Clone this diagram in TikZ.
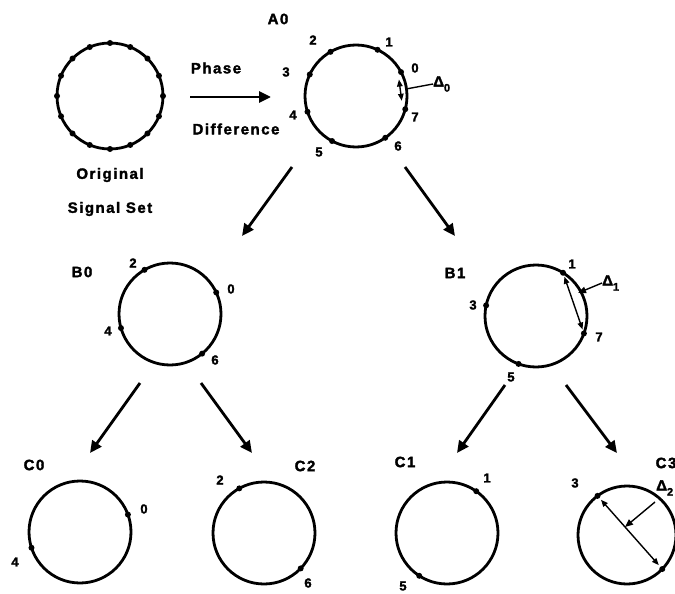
\documentclass[tikz,border=0pt]{standalone}
\usepackage{fontspec}
\setmainfont{Liberation Sans}[LetterSpace=10,BoldFeatures={FakeBold=2}]
\usetikzlibrary{arrows.meta,calc}
\begin{document}
\begin{tikzpicture}[x=1pt,y=-1pt,
  ring/.style={circle,draw,line width=2.8pt,outer sep=0pt,inner sep=0pt},
  dot/.style={circle,fill,inner sep=0pt,minimum size=6pt},
  lbl/.style={font=\bfseries\fontsize{15}{15}\selectfont,inner sep=0pt},
  num/.style={font=\bfseries\fontsize{13}{13}\selectfont,inner sep=0pt},
  flow/.style={line width=2.8pt,-{Triangle[length=12pt,width=11pt]}},
  delta/.style={line width=1.4pt},
  dtips/.style={{Triangle[length=7pt,width=5.5pt]}-{Triangle[length=7pt,width=5.5pt]}},
  dtip/.style={-{Triangle[length=8pt,width=6.5pt]}},
  dlbl/.style={font=\bfseries\fontsize{15}{15}\selectfont,inner sep=0pt,anchor=west}
]
\useasboundingbox (0,0) rectangle (675,594);
\clip (0,0) rectangle (675,594);

% Original signal set
\node[ring,minimum size=106pt] (O) at (110,96) {};
\foreach \a [count=\i] in {0,22.5,...,337.5} \node[dot] (o\i) at ($(O)+(\a:53pt)$) {};
\node[lbl] (orig) at (110,175) {Original};
\node[lbl] (sigset) at (110,209) {Signal Set};

% Phase difference arrow
\node[lbl] (phase) at (216,68) {Phase};
\node[lbl] (diff) at (236,129) {Difference};
\coordinate (p1) at (190,97);
\coordinate (p2) at (271,97);
\draw[flow] (p1) -- (p2);

% A0
\node[ring,minimum size=102pt] (A0) at (356,96) {};
\foreach \a/\n in {28/0,65/1,120/2,155/3,198/4,242/5,305/6,345/7} \node[dot] (a\n) at (A0.\a) {};
\node[lbl] (labA0) at (278,19) {A0};
\node[num] (na0) at (415,68) {0};
\node[num] (na1) at (389,42) {1};
\node[num] (na2) at (313,40) {2};
\node[num] (na3) at (286,72) {3};
\node[num] (na4) at (293,115) {4};
\node[num] (na5) at (319,152) {5};
\node[num] (na6) at (398,146) {6};
\node[num] (na7) at (415,117) {7};
\draw[delta,dtips] ($(A0)+(21:46pt)$) -- ($(A0)+(-6:46pt)$);
\coordinate (d0p) at (406,89);
\node[dlbl] (D0) at (433,84) {Δ\raisebox{-5pt}{\fontsize{11}{11}\selectfont 0}};
\draw[delta] (d0p) -- (D0.west);

% A0 -> B0, B1
\coordinate (s1) at (292,167); \coordinate (t1) at (242,236);
\coordinate (s2) at (405,167); \coordinate (t2) at (455,236);
\draw[flow] (s1) -- (t1);
\draw[flow] (s2) -- (t2);

% B0
\node[ring,minimum size=102pt] (B0) at (170,314) {};
\foreach \a/\n in {25/0,120/2,196/4,309/6} \node[dot] (b\n) at (B0.\a) {};
\node[lbl] (labB0) at (82,272) {B0};
\node[num] (nb2) at (133,263) {2};
\node[num] (nb0) at (231,289) {0};
\node[num] (nb4) at (108,331) {4};
\node[num] (nb6) at (215,360) {6};

% B1
\node[ring,minimum size=102pt] (B1) at (536,316) {};
\foreach \a/\n in {58/1,168/3,250/5,340/7} \node[dot] (b\n) at (B1.\a) {};
\node[lbl] (labB1) at (455,273) {B1};
\node[num] (nb1) at (572,264) {1};
\node[num] (nb3) at (473,305) {3};
\node[num] (nb5) at (511,377) {5};
\node[num] (nb7) at (599,337) {7};
\draw[delta,dtips,shorten <=1pt,shorten >=1pt] (b1) -- (b7);
\coordinate (d1p) at (578,293);
\node[dlbl] (D1) at (602,283) {Δ\raisebox{-5pt}{\fontsize{11}{11}\selectfont 1}};
\draw[delta,dtip] (D1.west) -- (d1p);

% B0 -> C0, C2 ; B1 -> C1, C3
\coordinate (s3) at (140,383); \coordinate (t3) at (90,453);
\coordinate (s4) at (201,383); \coordinate (t4) at (252,453);
\coordinate (s5) at (505,385); \coordinate (t5) at (457,453);
\coordinate (s6) at (566,385); \coordinate (t6) at (617,453);
\draw[flow] (s3) -- (t3);
\draw[flow] (s4) -- (t4);
\draw[flow] (s5) -- (t5);
\draw[flow] (s6) -- (t6);

% C0
\node[ring,minimum size=102pt] (C0) at (80,532) {};
\foreach \a/\n in {20/0,198/4} \node[dot] (c\n) at (C0.\a) {};
\node[lbl] (labC0) at (34,465) {C0};
\node[num] (nc0) at (144,509) {0};
\node[num] (nc4) at (15,562) {4};

% C2
\node[ring,minimum size=102pt] (C2) at (264,533) {};
\foreach \a/\n in {119/2,316/6} \node[dot] (c\n) at (C2.\a) {};
\node[lbl] (labC2) at (305,466) {C2};
\node[num] (nc2) at (220,480) {2};
\node[num] (nc6) at (308,583) {6};

% C1
\node[ring,minimum size=102pt] (C1) at (447,533) {};
\foreach \a/\n in {55/1,237/5} \node[dot] (c\n) at (C1.\a) {};
\node[lbl] (labC1) at (405,462) {C1};
\node[num] (nc1) at (487,478) {1};
\node[num] (nc5) at (403,586) {5};

% C3
\node[ring,minimum size=98pt] (C3) at (627,535) {};
\foreach \a/\n in {127/3,316/7} \node[dot] (c\n) at (C3.\a) {};
\node[lbl] (labC3) at (666,463) {C3};
\node[num] (nc3) at (575,483) {3};
\node[num] (nc7) at (680,591) {7};
\draw[delta,dtips,shorten <=2pt,shorten >=2pt] (c3) -- (c7);
\coordinate (d2p) at (625,527);
\node[dlbl] (D2) at (656,488) {Δ\raisebox{-5pt}{\fontsize{11}{11}\selectfont 2}};
\draw[delta,dtip] (655,502) -- (d2p);
\end{tikzpicture}
\end{document}
